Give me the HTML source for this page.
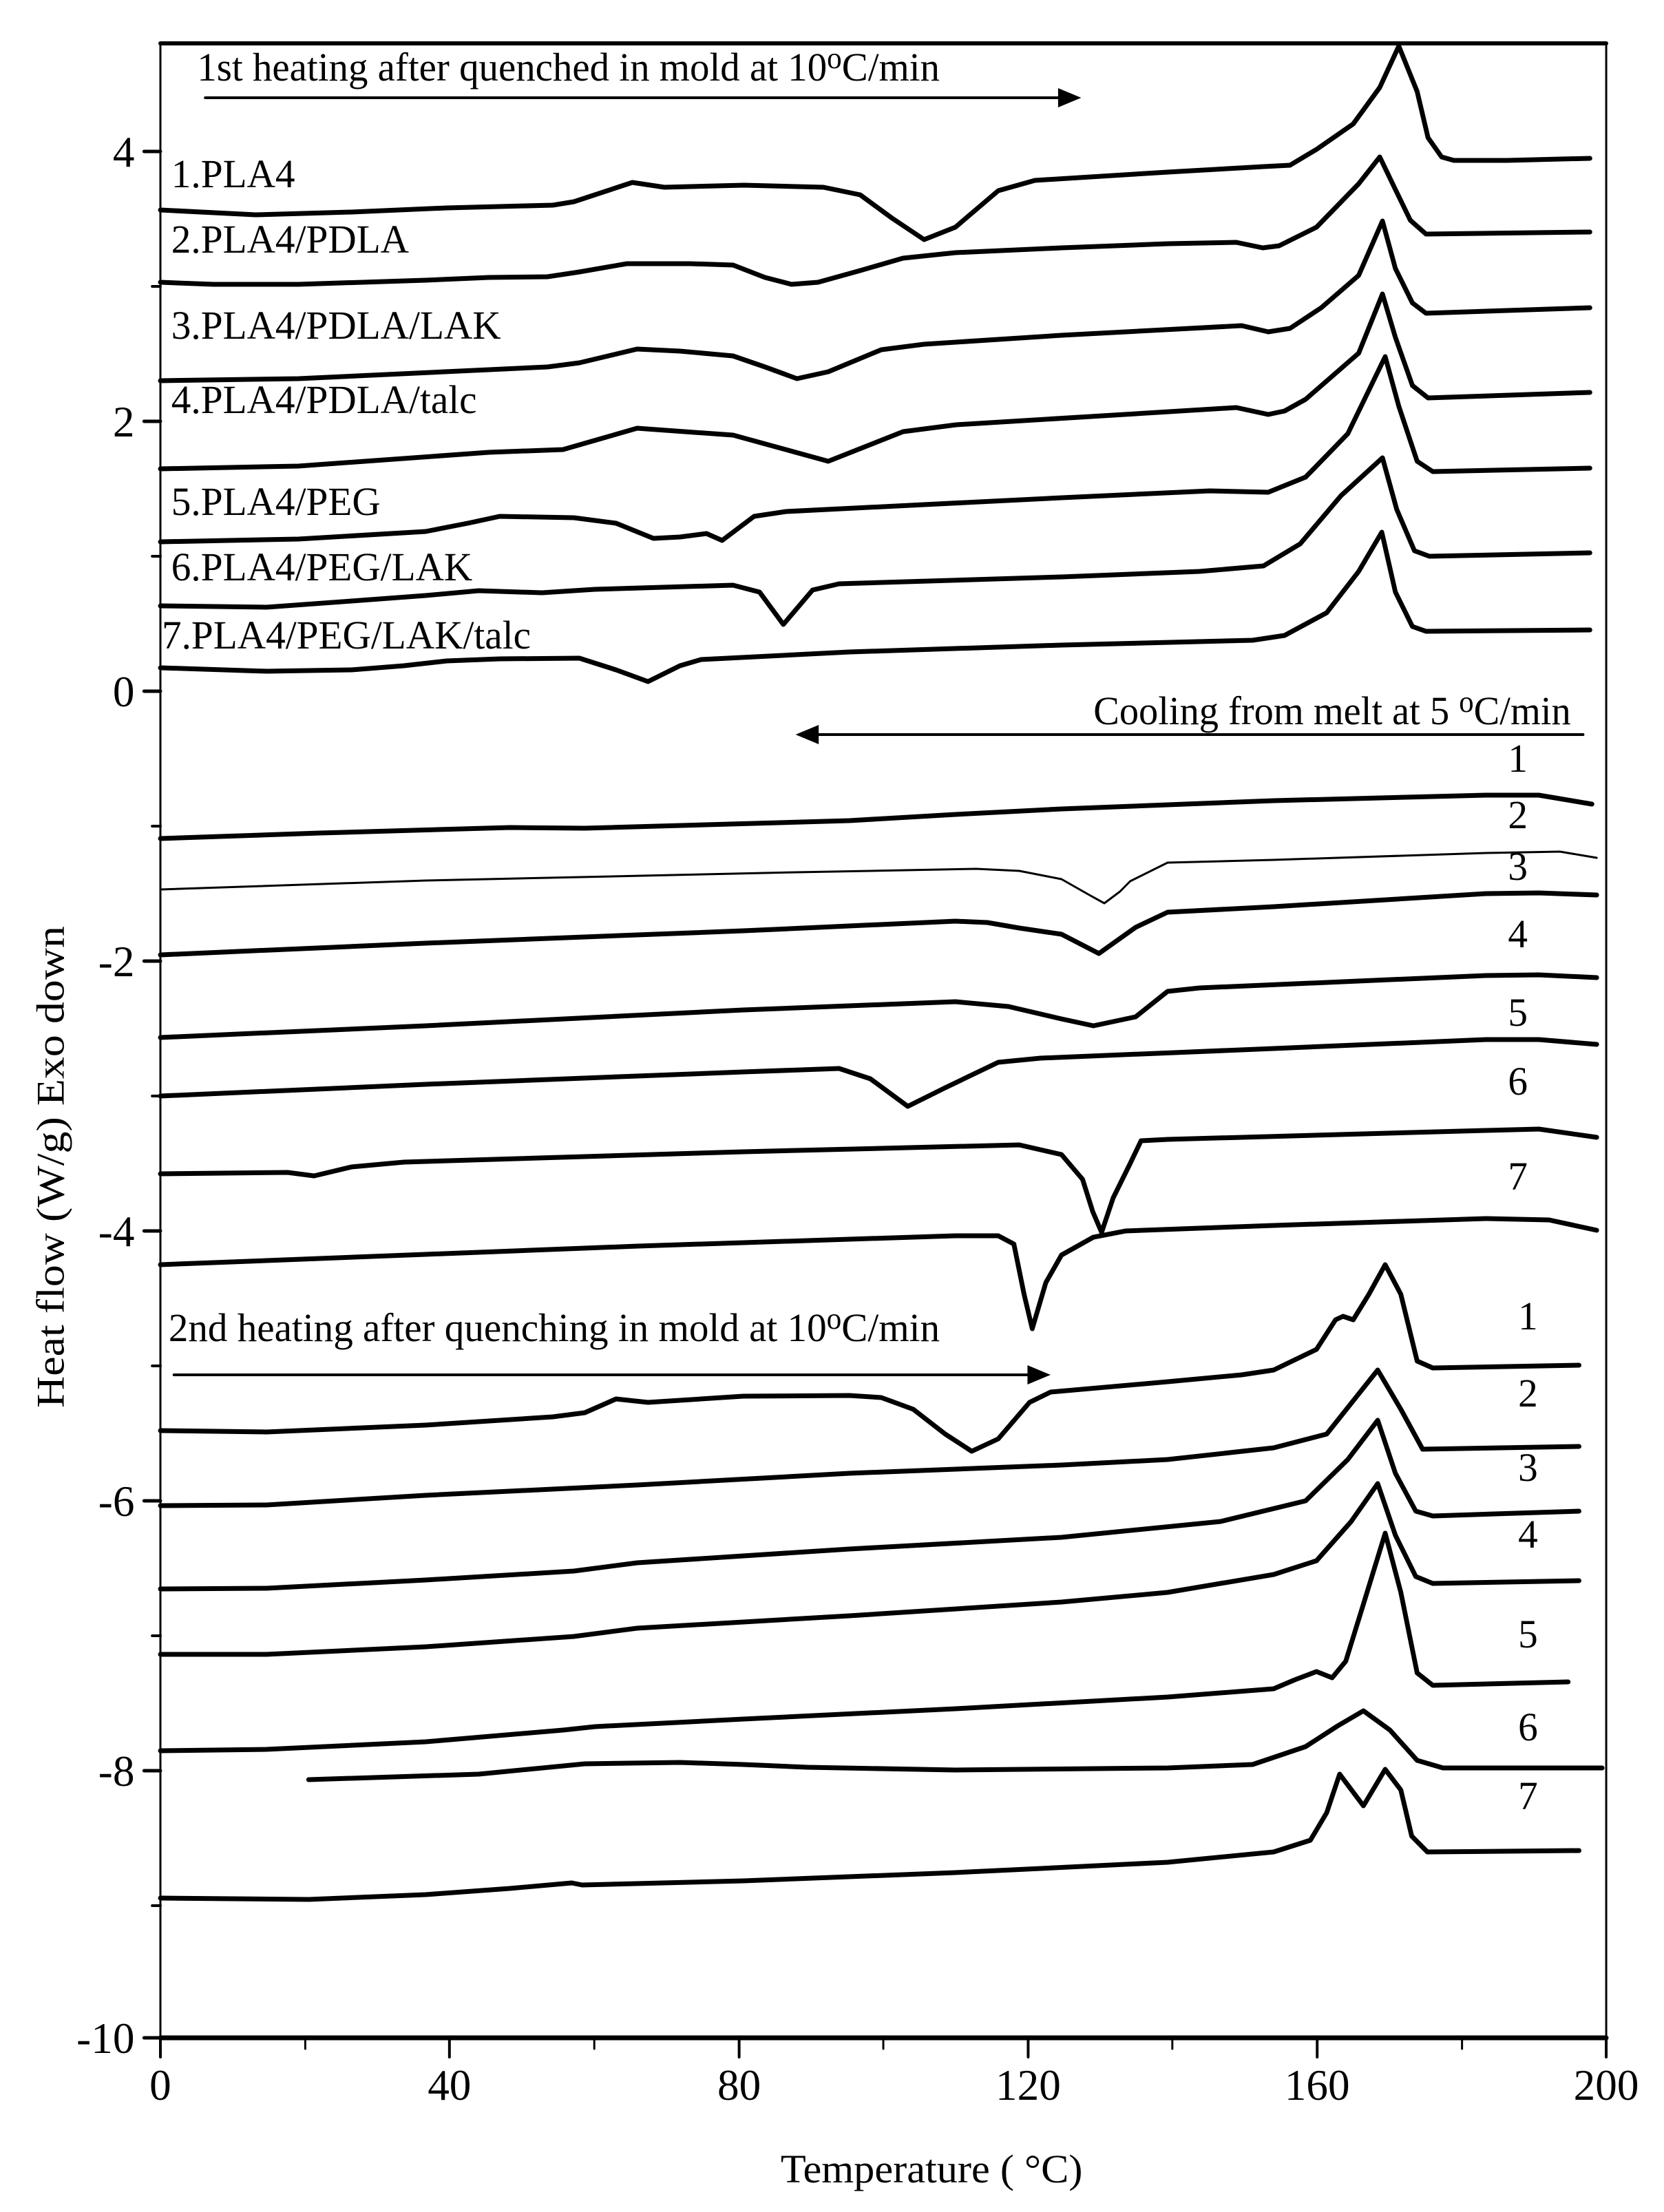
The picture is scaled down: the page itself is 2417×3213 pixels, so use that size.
<!DOCTYPE html>
<html><head><meta charset="utf-8"><style>
html,body{margin:0;padding:0;background:#fff;}
svg{display:block;}
text{font-family:"Liberation Serif",serif;fill:#000;}
</style></head><body>
<svg width="2417" height="3213" viewBox="0 0 2417 3213" xmlns="http://www.w3.org/2000/svg">
<g transform="matrix(0.9878,0,0,1,1.85,0)">
<g fill="none" stroke="#000" stroke-linejoin="round" stroke-linecap="round">
<line x1="234" y1="63" x2="2360" y2="63" stroke-width="6"/>
<line x1="234" y1="2960" x2="2360" y2="2960" stroke-width="7"/>
<line x1="234" y1="63" x2="234" y2="2963" stroke-width="3"/>
<line x1="2360" y1="63" x2="2360" y2="2963" stroke-width="3"/>
<path d="M234 2960V2988M659 2960V2988M1085 2960V2988M1510 2960V2988M1935 2960V2988M2360 2960V2988" stroke-width="4"/>
<path d="M447 2960V2976M872 2960V2976M1297 2960V2976M1722 2960V2976M2148 2960V2976" stroke-width="3"/>
<path d="M210 220H234M210 612H234M210 1004H234M210 1396H234M210 1788H234M210 2180H234M210 2572H234M210 2960H234" stroke-width="5"/>
<path d="M222 416H234M222 808H234M222 1200H234M222 1592H234M222 1984H234M222 2376H234M222 2768H234" stroke-width="4"/>

<g stroke-width="7">
<path d="M234,305 L374,312 515,308 655,302 811,298 842,293 928,265 975,272 1092,269 1209,272 1263,283 1310,317 1357,348 1403,330 1466,277 1520,262 1715,250 1856,242 1895,240 1934,217 1988,180 2027,127 2055,67 2082,133 2098,200 2118,228 2136,233 2214,233 2336,230"/>
<path d="M234,410 L312,413 437,413 624,407 717,403 803,402 850,395 920,383 1013,383 1076,385 1123,403 1162,413 1201,410 1263,393 1326,375 1403,367 1559,360 1715,354 1816,352 1855,360 1879,357 1934,330 1996,267 2027,228 2045,265 2072,320 2095,340 2336,337"/>
<path d="M234,553 L437,550 717,537 803,533 850,527 935,507 998,510 1076,517 1123,533 1170,550 1216,540 1294,508 1357,500 1559,487 1824,473 1863,482 1895,477 1941,447 1996,400 2031,321 2050,390 2075,440 2095,455 2336,447"/>
<path d="M234,681 L437,677 717,657 826,653 935,622 1076,632 1216,670 1326,627 1404,617 1816,592 1863,602 1887,597 1918,580 1996,513 2031,427 2050,490 2075,560 2098,578 2336,570"/>
<path d="M234,787 L437,783 624,772 686,760 733,750 842,752 904,760 959,782 998,780 1037,775 1060,785 1107,750 1154,743 1559,723 1777,713 1863,715 1918,693 1980,630 2035,518 2055,590 2082,670 2105,685 2336,680"/>
<path d="M234,880 L390,882 515,873 624,865 702,858 795,861 873,856 1076,850 1115,860 1150,907 1193,857 1232,848 1559,838 1762,830 1856,822 1910,790 1970,720 2031,665 2052,740 2078,800 2100,808 2336,803"/>
<path d="M234,970 L390,975 515,973 592,967 655,960 733,957 850,956 904,973 951,990 998,967 1029,958 1247,947 1559,937 1840,930 1887,923 1949,890 1996,830 2030,773 2050,860 2075,910 2095,917 2336,915"/>
</g>

<g stroke-width="7">
<path d="M234,1218 L468,1210 748,1202 858,1203 1247,1192 1403,1183 1559,1175 1871,1163 2183,1155 2261,1155 2339,1168"/>
<path d="M234,1292 L624,1279 1169,1267 1434,1262 1497,1265 1559,1277 1600,1300 1622,1312 1645,1295 1660,1280 1715,1253 1871,1249 2183,1239 2292,1237 2346,1246" stroke-width="3"/>
<path d="M234,1387 L624,1370 1091,1352 1403,1338 1450,1340 1497,1348 1559,1357 1614,1385 1668,1347 1715,1325 1871,1317 2183,1298 2261,1297 2346,1300"/>
<path d="M234,1507 L624,1490 1091,1467 1403,1455 1481,1462 1559,1480 1606,1490 1668,1477 1715,1440 1762,1435 2183,1417 2261,1416 2346,1420"/>
<path d="M234,1592 L624,1575 1091,1557 1232,1552 1278,1567 1333,1607 1388,1580 1466,1543 1528,1537 1871,1523 2183,1510 2261,1510 2346,1517"/>
<path d="M234,1705 L421,1703 460,1708 515,1695 592,1688 1091,1673 1497,1663 1559,1677 1590,1713 1605,1760 1618,1790 1635,1740 1660,1690 1676,1657 1715,1655 2183,1642 2261,1640 2346,1652"/>
<path d="M234,1837 L624,1822 936,1810 1403,1795 1466,1795 1489,1807 1504,1880 1516,1930 1536,1863 1559,1823 1606,1797 1653,1788 1871,1780 2183,1770 2276,1772 2346,1787"/>
</g>

<g stroke-width="7">
<path d="M234,2078 L390,2080 624,2070 811,2058 858,2052 904,2032 951,2037 1091,2028 1247,2027 1294,2030 1341,2047 1388,2083 1427,2108 1466,2090 1512,2037 1543,2022 1715,2007 1824,1997 1871,1990 1934,1960 1962,1917 1973,1912 1988,1917 2011,1880 2035,1837 2058,1880 2082,1977 2105,1987 2320,1983"/>
<path d="M234,2187 L390,2186 624,2172 935,2157 1247,2140 1559,2128 1715,2120 1871,2103 1949,2083 2024,1990 2058,2047 2090,2105 2320,2101"/>
<path d="M234,2308 L390,2307 624,2295 842,2282 935,2270 1247,2250 1559,2233 1793,2210 1918,2180 1980,2120 2024,2063 2050,2140 2080,2195 2105,2202 2320,2195"/>
<path d="M234,2403 L390,2403 624,2392 842,2377 935,2365 1247,2347 1559,2327 1715,2313 1871,2287 1934,2267 1985,2210 2024,2155 2050,2230 2080,2290 2105,2300 2320,2296"/>
<path d="M234,2543 L390,2541 624,2530 826,2513 873,2508 1091,2497 1403,2482 1715,2465 1871,2453 1902,2440 1934,2428 1957,2437 1977,2413 2003,2330 2035,2227 2058,2313 2082,2430 2105,2448 2304,2443"/>
<path d="M452,2585 L702,2577 858,2562 998,2560 1091,2563 1185,2567 1403,2571 1715,2568 1840,2563 1918,2537 1965,2507 2003,2485 2042,2513 2082,2557 2120,2568 2354,2568"/>
<path d="M234,2757 L452,2759 624,2752 748,2743 839,2735 854,2738 1091,2732 1403,2720 1715,2705 1871,2690 1925,2673 1949,2633 1968,2577 2003,2623 2035,2570 2058,2600 2074,2667 2097,2690 2320,2688"/>
</g>

<g stroke-width="4">
<line x1="300" y1="142" x2="1560" y2="142"/>
<line x1="1180" y1="1067" x2="2326" y2="1067"/>
<line x1="254" y1="1997" x2="1520" y2="1997"/>
</g>
</g>
<g fill="#000">
<polygon points="1588,142 1554,128 1554,156"/>
<polygon points="1168,1067 1202,1053 1202,1081"/>
<polygon points="1543,1997 1509,1983 1509,2011"/>
</g>

<g font-size="58">
<text x="288" y="117" textLength="1092" lengthAdjust="spacingAndGlyphs">1st heating after quenched in mold at 10<tspan font-size="44" dy="-18">o</tspan><tspan dy="18">C/min</tspan></text>
<text x="1606" y="1052" textLength="702" lengthAdjust="spacingAndGlyphs">Cooling from melt at 5 <tspan font-size="44" dy="-18">o</tspan><tspan dy="18">C/min</tspan></text>
<text x="246" y="1948" textLength="1134" lengthAdjust="spacingAndGlyphs">2nd heating after quenching in mold at 10<tspan font-size="44" dy="-18">o</tspan><tspan dy="18">C/min</tspan></text>

<text x="250" y="272">1.PLA4</text>
<text x="250" y="367">2.PLA4/PDLA</text>
<text x="250" y="492">3.PLA4/PDLA/LAK</text>
<text x="250" y="600">4.PLA4/PDLA/talc</text>
<text x="250" y="748">5.PLA4/PEG</text>
<text x="250" y="843">6.PLA4/PEG/LAK</text>
<text x="236" y="942">7.PLA4/PEG/LAK/talc</text>

<g text-anchor="middle">
<text x="2230" y="1121">1</text>
<text x="2230" y="1203">2</text>
<text x="2230" y="1278">3</text>
<text x="2230" y="1376">4</text>
<text x="2230" y="1490">5</text>
<text x="2230" y="1590">6</text>
<text x="2230" y="1728">7</text>
<text x="2245" y="1931">1</text>
<text x="2245" y="2043">2</text>
<text x="2245" y="2151">3</text>
<text x="2245" y="2248">4</text>
<text x="2245" y="2393">5</text>
<text x="2245" y="2528">6</text>
<text x="2245" y="2628">7</text>
</g>

<g text-anchor="end" font-size="64">
<text x="196" y="242">4</text>
<text x="196" y="634">2</text>
<text x="196" y="1026">0</text>
<text x="196" y="1418">-2</text>
<text x="196" y="1810">-4</text>
<text x="196" y="2202">-6</text>
<text x="196" y="2594">-8</text>
<text x="196" y="2982">-10</text>
</g>
<g text-anchor="middle">
<g font-size="64">
<text x="234" y="3050">0</text>
<text x="659" y="3050">40</text>
<text x="1085" y="3050">80</text>
<text x="1510" y="3050">120</text>
<text x="1935" y="3050">160</text>
<text x="2360" y="3050">200</text>
</g>
<text x="1368" y="3170" textLength="444" lengthAdjust="spacingAndGlyphs">Temperature ( °C)</text>
<text x="0" y="0" transform="translate(92,1695) rotate(-90)" textLength="700" lengthAdjust="spacingAndGlyphs">Heat flow (W/g)  Exo down</text>
</g>
</g>
</g>
</svg>
</body></html>
